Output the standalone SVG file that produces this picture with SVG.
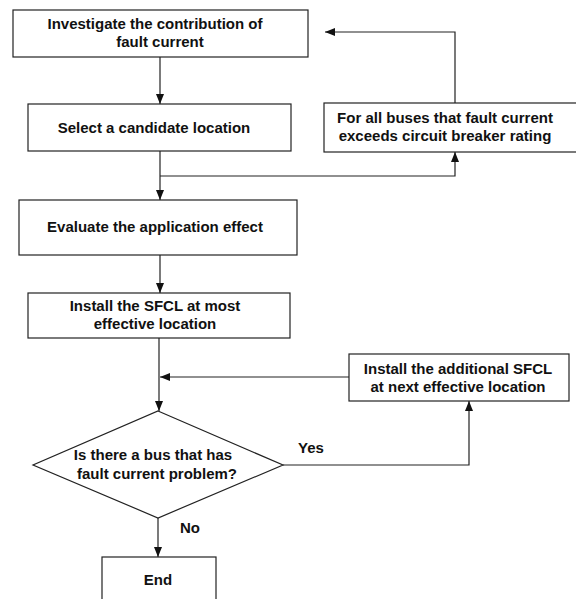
<svg xmlns="http://www.w3.org/2000/svg" width="576" height="599" viewBox="0 0 576 599">
<defs>
<style>
.box{fill:#fff;stroke:#222;stroke-width:1.2}
.t{font-family:"Liberation Sans",Arial,sans-serif;font-weight:bold;font-size:15px;fill:#111;text-anchor:middle}
.c{fill:none;stroke:#222;stroke-width:1.2}
</style>
<marker id="ah" markerUnits="userSpaceOnUse" markerWidth="10" markerHeight="10" viewBox="0 0 10 10" refX="10" refY="5" orient="auto">
<path d="M0,1 L10,5 L0,9 Z" fill="#111"/>
</marker>
</defs>
<rect width="576" height="599" fill="#fff"/>
<g id="connectors">
<path class="c" d="M160,57 V104" marker-end="url(#ah)"/>
<path class="c" d="M160,151 V200" marker-end="url(#ah)"/>
<path class="c" d="M160,176 H455 V152" marker-end="url(#ah)"/>
<path class="c" d="M455,103 V32 H325" marker-end="url(#ah)"/>
<path class="c" d="M160,255 V293" marker-end="url(#ah)"/>
<path class="c" d="M159,338 V411" marker-end="url(#ah)"/>
<path class="c" d="M349,377 H160" marker-end="url(#ah)"/>
<path class="c" d="M283,465 H469 V401" marker-end="url(#ah)"/>
<path class="c" d="M158,518 V557" marker-end="url(#ah)"/>
</g>
<g id="n1">
<rect class="box" x="13" y="10" width="295" height="47"/>
<text class="t" x="155" y="29">Investigate the contribution of</text>
<text class="t" x="160" y="47">fault current</text>
</g>
<g id="n2">
<rect class="box" x="28" y="104" width="263" height="47"/>
<text class="t" x="154" y="133">Select a candidate location</text>
</g>
<g id="n3">
<rect class="box" x="324" y="103" width="256" height="49"/>
<text class="t" x="445" y="123">For all buses that fault current</text>
<text class="t" x="445" y="141">exceeds circuit breaker rating</text>
</g>
<g id="n4">
<rect class="box" x="19" y="200" width="278" height="55"/>
<text class="t" x="155" y="232">Evaluate the application effect</text>
</g>
<g id="n5">
<rect class="box" x="28" y="293" width="262" height="45"/>
<text class="t" x="155" y="311">Install the SFCL at most</text>
<text class="t" x="155" y="329">effective location</text>
</g>
<g id="n6">
<rect class="box" x="349" y="354" width="220" height="47"/>
<text class="t" x="458" y="374">Install the additional SFCL</text>
<text class="t" x="458" y="392">at next effective location</text>
</g>
<g id="n7">
<polygon class="box" points="158,411 283,465 158,518 33,465"/>
<text class="t" x="153" y="460">Is there a bus that has</text>
<text class="t" x="157" y="479">fault current problem?</text>
</g>
<g id="n8">
<rect class="box" x="102" y="557" width="114" height="50"/>
<text class="t" x="158" y="585">End</text>
</g>
<g id="labels">
<text class="t" x="311" y="453">Yes</text>
<text class="t" x="190" y="533">No</text>
</g>
</svg>
